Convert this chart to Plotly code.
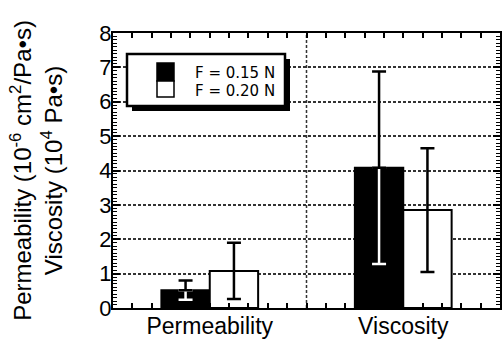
import plotly.graph_objects as go

categories = ["Permeability", "Viscosity"]
series_names = ["F = 0.15 N", "F = 0.20 N"]
values_015 = [0.52, 4.08]
errors_015 = [0.28, 2.80]
values_020 = [1.08, 2.85]
errors_020 = [0.82, 1.80]
y_ticks = [0, 1, 2, 3, 4, 5, 6, 7, 8]

BAR_W = 0.25
xidx = list(range(len(categories)))
FONT = "Liberation Sans, Arial, sans-serif"

fig = go.Figure()
fig.add_trace(go.Bar(x=xidx, y=values_015, width=BAR_W, offset=-BAR_W, name=series_names[0],
                     marker=dict(color="black", line=dict(color="black", width=2)), showlegend=False))
fig.add_trace(go.Bar(x=xidx, y=values_020, width=BAR_W, offset=0, name=series_names[1],
                     marker=dict(color="white", line=dict(color="black", width=2)), showlegend=False))

x015 = [i - BAR_W / 2 for i in xidx]
x020 = [i + BAR_W / 2 for i in xidx]
zeros = [0] * len(xidx)
ebw = dict(thickness=2.5, width=7)
# lower (white) part of the error bar inside the black bar
fig.add_trace(go.Scatter(x=x015, y=values_015, mode="markers", marker=dict(color="rgba(0,0,0,0)", size=1),
                         error_y=dict(type="data", symmetric=False, array=zeros, arrayminus=errors_015,
                                      color="white", **ebw), showlegend=False, hoverinfo="skip"))
# upper (black) part
fig.add_trace(go.Scatter(x=x015, y=values_015, mode="markers", marker=dict(color="rgba(0,0,0,0)", size=1),
                         error_y=dict(type="data", symmetric=False, array=errors_015, arrayminus=zeros,
                                      color="black", **ebw), showlegend=False, hoverinfo="skip"))
fig.add_trace(go.Scatter(x=x020, y=values_020, mode="markers", marker=dict(color="rgba(0,0,0,0)", size=1),
                         error_y=dict(type="data", array=errors_020, color="black", **ebw),
                         showlegend=False, hoverinfo="skip"))

# divider between categories
fig.add_shape(type="line", xref="x", yref="paper", x0=0.5, x1=0.5, y0=0, y1=1, layer="below",
              line=dict(color="#333", width=1.5, dash="3px,2px"))

# hand-made legend box with shadow
def px2x(p):
    return (p - 113) / 387
def px2y(p):
    return (308 - p) / 275

fig.add_shape(type="rect", xref="paper", yref="paper", x0=px2x(132), x1=px2x(290), y0=px2y(111), y1=px2y(59),
              fillcolor="black", line=dict(width=0), layer="above")
fig.add_shape(type="rect", xref="paper", yref="paper", x0=px2x(127), x1=px2x(285), y0=px2y(106), y1=px2y(54),
              fillcolor="white", line=dict(color="black", width=2.5), layer="above")
fig.add_shape(type="rect", xref="paper", yref="paper", x0=px2x(157), x1=px2x(174), y0=px2y(81), y1=px2y(63),
              fillcolor="black", line=dict(color="black", width=1.5), layer="above")
fig.add_shape(type="rect", xref="paper", yref="paper", x0=px2x(157), x1=px2x(174), y0=px2y(97), y1=px2y(81),
              fillcolor="white", line=dict(color="black", width=1.5), layer="above")
for name, yc in zip(series_names, [73, 91]):
    fig.add_annotation(xref="paper", yref="paper", x=px2x(193), y=px2y(yc), text=name, showarrow=False,
                       xanchor="left", yanchor="middle",
                       font=dict(family="DejaVu Sans, sans-serif", size=15, color="black"))

fig.update_layout(
    width=502, height=343,
    margin=dict(l=113, r=2, t=33, b=35),
    paper_bgcolor="white", plot_bgcolor="white",
    font=dict(family=FONT, color="black"),
    barmode="overlay",
)
fig.update_xaxes(range=[-0.5, 1.5], tickvals=xidx, ticktext=categories, tickfont=dict(size=23),
                 automargin=False,
                 showgrid=False, zeroline=False, showline=True, linecolor="black", linewidth=2,
                 mirror="ticks", ticks="inside", ticklen=5, tickcolor="black", tickwidth=1.5,
                 ticklabelstandoff=-4,
                 minor=dict(dtick=0.1, tick0=0, ticks="inside", ticklen=5, tickcolor="black", tickwidth=1.5))
fig.update_yaxes(range=[0, 8], tickvals=y_ticks, tickfont=dict(size=22),
                 automargin=False,
                 showgrid=True, gridcolor="#333", gridwidth=1.5, griddash="3px,2px",
                 zeroline=False, showline=True, linecolor="black", linewidth=2,
                 mirror="ticks", ticks="inside", ticklen=7, tickcolor="black", tickwidth=1.5,
                 ticklabelstandoff=-5,
                 minor=dict(dtick=0.1, ticks="inside", ticklen=4, tickcolor="black", tickwidth=1),
                 title=dict(text="Permeability (10<sup>-6</sup> cm<sup>2</sup>/Pa•s)<br>Viscosity (10<sup>4</sup> Pa•s)",
                            font=dict(size=24), standoff=30))

fig.write_html("out.html")
